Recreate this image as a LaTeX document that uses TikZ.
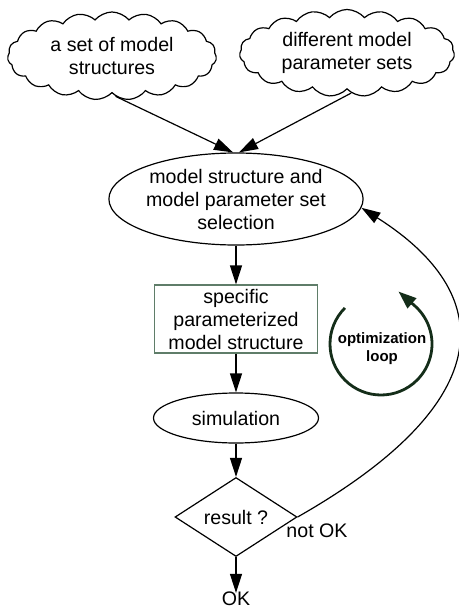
\documentclass[tikz,border=0pt]{standalone}
\usepackage{fontspec}
\setmainfont{Liberation Sans}
\usetikzlibrary{shapes.geometric,shapes.symbols,arrows.meta}
\definecolor{boxgreen}{RGB}{95,125,105}
\definecolor{arccol}{RGB}{20,45,25}
\begin{document}
\begin{tikzpicture}[x=1pt,y=-1pt,
  every node/.style={font=\fontsize{19.6}{23}\selectfont, align=center, inner sep=0pt},
  ln/.style={line width=1.2pt},
  arr/.style={ln,-{Triangle[length=19pt,width=12pt]}},
  cloudbox/.style={cloud, draw, ln, cloud puffs=19, cloud puff arc=100, cloud ignores aspect, minimum width=209pt, minimum height=88pt},
  ellbox/.style={ellipse, draw, ln},
  rectbox/.style={rectangle, draw=boxgreen, ln},
  decbox/.style={diamond, draw, ln}
]
\useasboundingbox (0,0) rectangle (458,610);

\node[cloudbox] (c1) at (112,56) {a set of model\\structures};
\node[cloudbox, minimum width=215pt, minimum height=87pt] (c2) at (347,53) {different model\\parameter sets};
\node[ellbox, minimum width=216pt, minimum height=92pt] (sel) at (236,199) {model structure and\\model parameter set\\selection};
\node[rectbox, minimum width=163pt, minimum height=68pt] (spec) at (236,319) {specific\\parameterized\\model structure};
\node[ellbox, minimum width=165pt, minimum height=50pt] (sim) at (236,418) {simulation};
\node[decbox, minimum width=122pt, minimum height=79pt] (dec) at (236,517) {result ?};
\node (ok) at (236,599) {OK};
\node (nok) at (317,531) {not OK};
\node[font=\bfseries\fontsize{15}{18}\selectfont] (opt) at (382,349) {optimization\\loop};

\draw[arr] (c1.-85) -- ([xshift=-3pt]sel.north);
\draw[arr] (c2.-84) -- ([xshift=3pt]sel.north);
\draw[arr] (sel) -- (spec);
\draw[arr] (spec) -- (sim);
\draw[arr] (sim) -- (dec);
\draw[arr] (dec) -- ([yshift=-1pt]ok.north);
\draw[arr] (dec.east) .. controls (503,400) and (496,293) .. (sel.-4);

\coordinate (oc) at (381,344);
\draw[line width=2.8pt, arccol, -{Triangle[length=18pt,width=13pt]}] ([shift={(135:51pt)}]oc) arc[start angle=135, end angle=409, radius=51pt] -- ++(-16pt,14pt);
\end{tikzpicture}
\end{document}
